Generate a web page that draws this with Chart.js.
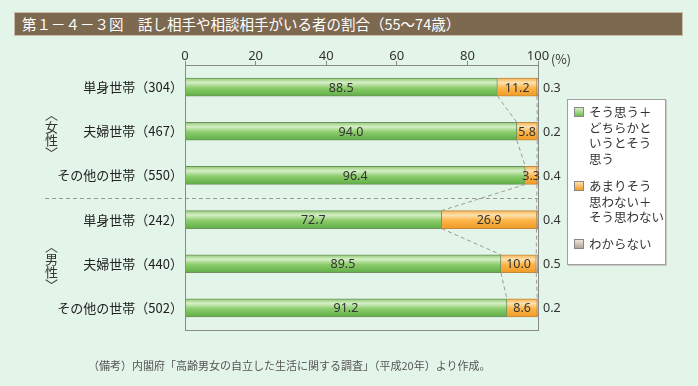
<!DOCTYPE html>
<html lang="ja">
<head>
<meta charset="utf-8">
<script src="https://cdn.jsdelivr.net/npm/chart.js@4"></script>
<style>
  body { margin: 0; width: 698px; height: 386px; background: #e3f4e9; font-family: "Noto Sans CJK JP", "Noto Sans", sans-serif; overflow: hidden; }
  #wrap { position: relative; width: 698px; height: 386px; }
  canvas { position: absolute; left: 0; top: 0; }
  .title { position: absolute; left: 14px; top: 12px; width: 669px; height: 24px; background: #7d6850; border: 1px solid #cbbca6; color: #fff; font-size: 14.5px; line-height: 22px; padding-left: 7px; box-sizing: border-box; }
  .pct { position: absolute; left: 551px; top: 49px; font-size: 12.5px; color: #333; }
  .group { position: absolute; left: 43px; writing-mode: vertical-rl; font-size: 13px; color: #333; line-height: 16px; }
  .legend { position: absolute; left: 567px; top: 99px; width: 99px; height: 166px; background: #fff; border: 1px solid #a0a0a0; box-shadow: 1px 1px 0 #c8c8c8; box-sizing: border-box; font-size: 12.5px; color: #333; line-height: 15.5px; }
  .item { position: absolute; left: 6px; white-space: nowrap; }
  .sw { position: absolute; left: 0; top: 3px; width: 10px; height: 10px; border: 1px solid #888; box-sizing: border-box; }
  .item span.t { display: block; margin-left: 15px; }
  .note { position: absolute; left: 88px; top: 357px; font-size: 11px; color: #555; }
</style>
</head>
<body>
<div id="wrap">
  <canvas id="chart" width="698" height="386"></canvas>
  <div class="title">第１－４－３図　話し相手や相談相手がいる者の割合（55～74歳）</div>
  <div class="pct">(%)</div>
  <div class="group" style="top:108px">〈女性〉</div>
  <div class="group" style="top:240px">〈男性〉</div>
  <div class="legend">
    <div class="item" style="top:4px"><div class="sw" style="background:linear-gradient(#d6efc6,#6fbd4f)"></div><span class="t">そう思う＋<br>どちらかと<br>いうとそう<br>思う</span></div>
    <div class="item" style="top:78px"><div class="sw" style="background:linear-gradient(#fde2b0,#f39d28)"></div><span class="t">あまりそう<br>思わない＋<br>そう思わない</span></div>
    <div class="item" style="top:136px"><div class="sw" style="background:linear-gradient(#ece6dc,#b0a696)"></div><span class="t">わからない</span></div>
  </div>
  <div class="note">（備考）内閣府「高齢男女の自立した生活に関する調査」（平成20年）より作成。</div>
</div>
<script>
const categories = ['単身世帯（304）', '夫婦世帯（467）', 'その他の世帯（550）', '単身世帯（242）', '夫婦世帯（440）', 'その他の世帯（502）'];
const agree = [88.5, 94.0, 96.4, 72.7, 89.5, 91.2];
const disagree = [11.2, 5.8, 3.3, 26.9, 10.0, 8.6];
const unknown = [0.3, 0.2, 0.4, 0.4, 0.5, 0.2];
const xTicks = [0, 20, 40, 60, 80, 100];

const BAR_H = 18;

function barGradient(ctx, stops, fallback) {
  const chart = ctx.chart;
  const y = chart.scales.y;
  if (!chart.chartArea || !y || ctx.dataIndex === undefined) return fallback;
  const c = y.getPixelForValue(ctx.dataIndex);
  const g = chart.ctx.createLinearGradient(0, c - BAR_H / 2, 0, c + BAR_H / 2);
  stops.forEach(s => g.addColorStop(s[0], s[1]));
  return g;
}

const greenStops = [[0, '#8fca72'], [0.25, '#d6efc6'], [0.55, '#8ccc6c'], [1, '#5fae45']];
const orangeStops = [[0, '#f6b04e'], [0.25, '#fde2b0'], [0.55, '#fbb548'], [1, '#f19a26']];
const grayStops = [[0, '#c8c0b4'], [0.3, '#ece6dc'], [1, '#a89e8e']];

// labels, connectors, separator and frame
const extras = {
  id: 'extras',
  afterDatasetsDraw(chart) {
    const c = chart.ctx;
    const x = chart.scales.x;
    const y = chart.scales.y;
    const area = chart.chartArea;
    c.save();

    // dashed connectors between bars
    c.strokeStyle = '#9a9a9a';
    c.lineWidth = 1;
    c.setLineDash([4, 3]);
    for (let i = 0; i < categories.length - 1; i++) {
      const y1 = y.getPixelForValue(i) + BAR_H / 2;
      const y2 = y.getPixelForValue(i + 1) - BAR_H / 2;
      [[agree[i], agree[i + 1]], [agree[i] + disagree[i], agree[i + 1] + disagree[i + 1]]].forEach(p => {
        c.beginPath();
        c.moveTo(x.getPixelForValue(p[0]), y1);
        c.lineTo(x.getPixelForValue(p[1]), y2);
        c.stroke();
      });
    }
    // separator between female and male groups
    const sepY = Math.round((y.getPixelForValue(2) + y.getPixelForValue(3)) / 2) + 0.5;
    c.beginPath();
    c.moveTo(45, sepY);
    c.lineTo(area.right, sepY);
    c.stroke();
    c.setLineDash([]);

    // frame
    c.strokeStyle = '#8a8a8a';
    c.strokeRect(Math.round(area.left) + 0.5, Math.round(area.top) + 0.5, Math.round(area.right - area.left), Math.round(area.bottom - area.top));

    // value labels
    c.font = '12.5px "Noto Sans", "DejaVu Sans", sans-serif';
    c.fillStyle = '#333';
    c.textBaseline = 'middle';
    categories.forEach((cat, i) => {
      const cy = y.getPixelForValue(i) + 1;
      c.textAlign = 'center';
      c.fillText(agree[i].toFixed(1), x.getPixelForValue(agree[i] / 2), cy);
      c.fillText(disagree[i].toFixed(1), x.getPixelForValue(agree[i] + disagree[i] / 2), cy);
      c.textAlign = 'left';
      c.fillText(unknown[i].toFixed(1), area.right + 5, cy);
    });
    c.restore();
  }
};

new Chart(document.getElementById('chart'), {
  type: 'bar',
  data: {
    labels: categories,
    datasets: [
      { label: 'そう思う＋どちらかというとそう思う', data: agree, borderColor: '#6f8f5f',
        backgroundColor: ctx => barGradient(ctx, greenStops, '#8ccc6c') },
      { label: 'あまりそう思わない＋そう思わない', data: disagree, borderColor: '#c28a40',
        backgroundColor: ctx => barGradient(ctx, orangeStops, '#fbb548') },
      { label: 'わからない', data: unknown, borderColor: '#8a8276',
        backgroundColor: ctx => barGradient(ctx, grayStops, '#c8c0b4') }
    ]
  },
  options: {
    indexAxis: 'y',
    responsive: false,
    animation: false,
    borderWidth: 1,
    barThickness: BAR_H,
    layout: { padding: { left: 0, top: 0, right: 160, bottom: 56 } },
    plugins: {
      legend: { display: false },
      tooltip: { enabled: false }
    },
    scales: {
      x: {
        position: 'top',
        stacked: true,
        min: 0,
        max: 100,
        afterFit: s => { s.height = 65; },
        afterBuildTicks: s => { s.ticks = xTicks.map(v => ({ value: v })); },
        ticks: { color: '#333', padding: -3, font: { size: 13, family: '"Noto Sans", sans-serif' } },
        grid: { drawOnChartArea: false, tickLength: 4, color: '#8a8a8a' },
        border: { display: false }
      },
      y: {
        stacked: true,
        afterFit: s => { s.width = 185; },
        ticks: { color: '#222', padding: 2, font: { size: 13, family: '"Noto Sans CJK JP", sans-serif' } },
        grid: { display: false, drawTicks: false },
        border: { display: false }
      }
    }
  },
  plugins: [extras]
});
</script>
</body>
</html>
